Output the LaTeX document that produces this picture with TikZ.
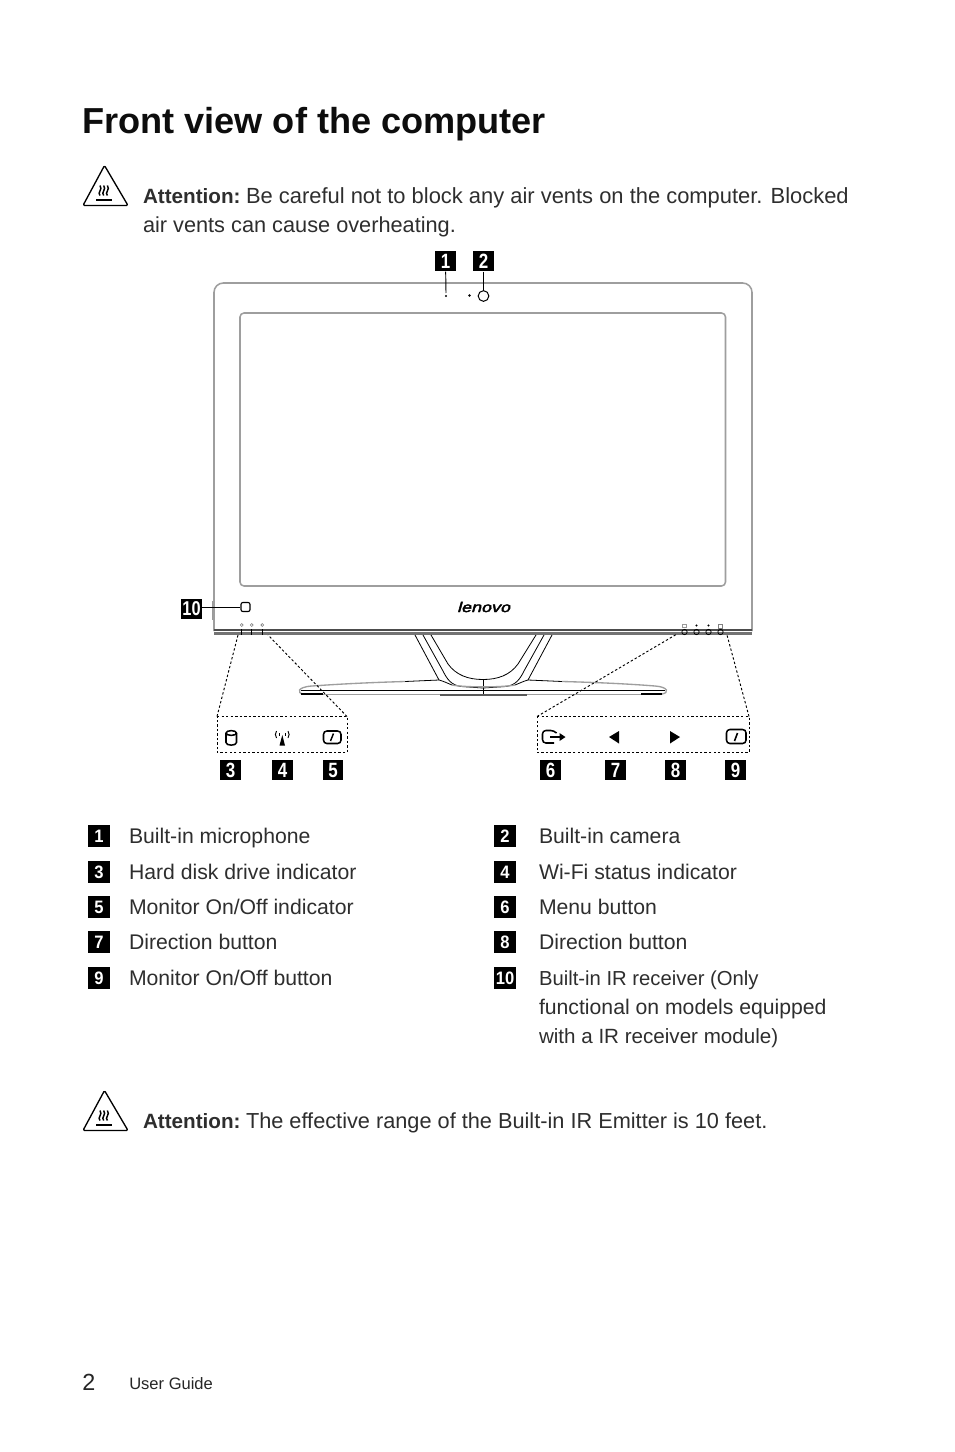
\documentclass[tikz,border=0pt]{standalone}
\usepackage{fontspec}
\setmainfont{Liberation Sans}
\newfontfamily\tagf[FakeStretch=0.82]{Liberation Sans}
\newfontfamily\listf[FakeStretch=0.92]{Liberation Sans}
\newfontfamily\logof[FakeBold=2.5,FakeSlant=0.22]{Liberation Sans}
\newcommand{\fs}[1]{\fontsize{#1}{#1}\selectfont}
\tikzset{x=0.75pt,y=-0.75pt,
  body/.style={anchor=base west,inner sep=0,outer sep=0,font=\fs{15.9},text=black!82},
  wide/.style={anchor=base west,inner sep=0,outer sep=0,font=\fs{16.3},text=black!82},
  bodyb/.style={anchor=base west,inner sep=0,outer sep=0,font=\fs{15.5}\bfseries,text=black!82},
  tagbox/.style={fill=black,text=white,minimum width=15.5pt,minimum height=15.5pt,inner sep=0,font=\tagf\fs{15.5}\bfseries},
  listbox/.style={fill=black,text=white,minimum width=16pt,minimum height=16pt,inner sep=0,font=\listf\fs{13.5}\bfseries},
  thin/.style={line width=0.6pt,black},
  pale/.style={line width=1pt,black!38},
  frameline/.style={line width=1.15pt,black!38},
  zone/.style={line width=0.7pt,black,dash pattern=on 1.8pt off 1.6pt},
  lead/.style={line width=0.7pt,black},
  sym/.style={line width=1.15pt,black,line join=round}
}
\newcommand{\warn}[2]{%
 \begin{scope}[shift={(#1,#2)}]
  \draw[line width=1pt,line join=round,rounded corners=1pt] (21.5,-1.5) -- (45,38.5) -- (0,38.5) -- cycle;
  \draw[line width=1.5pt] (13,32.5) -- (28.5,32.5);
  \foreach \q in {17,20.7,24.4}
   \draw[line width=1.1pt] (\q,28.5) .. controls (\q-3.2,25.5) and (\q+3.2,22.5) .. (\q,18.5);
 \end{scope}}
\begin{document}
\begin{tikzpicture}
\useasboundingbox (0,0) rectangle (954,1452);
\fill[white] (0,0) rectangle (954,1452);
% heading and attention
\node[anchor=base west,inner sep=0,font=\fs{27.1}\bfseries,text=black!95] (title) at (82,134) {Front view of the computer};
\warn{83}{167}
\node[bodyb] (att1) at (143,203) {Attention:};
\node[wide,font=\fs{16.44}] (att1b) at (246,203) {Be careful not to block any air vents on the computer. Blocked};
\node[wide] (att1c) at (143,232) {air vents can cause overheating.};
% monitor
\draw[frameline,rounded corners=7pt] (214,631) -- (214,283) -- (752,283) -- (752,631);
\draw[frameline,rounded corners=3pt] (240,313) rectangle (725.5,586);
\draw[black!70,line width=0.8pt] (214,630) -- (752,630);
\draw[black!55,line width=1.6pt] (214,633.5) -- (752,633.5);
\draw[black!40,line width=0.6pt] (212.5,601) -- (212.5,620);
% stand
\draw[thin] (415,635) -- (439,680);
\draw[thin] (423,635) -- (443,671) .. controls (447,679) and (451,685) .. (461,686.5) -- (483,688);
\draw[thin] (431,635) -- (448,664) .. controls (456,675) and (468,679.5) .. (483,679.5)
            .. controls (498,679.5) and (510,675) .. (518,664) -- (536,635);
\draw[thin] (552,635) -- (528,680);
\draw[thin] (544,635) -- (524,671) .. controls (520,679) and (516,685) .. (506,686.5) -- (483,688);
\draw[thin] (483,679.5) -- (483,695.5);
\draw[thin] (439,680) .. controls (443,681) and (447,683) .. (452,685);
\draw[thin] (528,680) .. controls (524,681) and (520,683) .. (515,685);
\draw[thin] (405,681.5) -- (439,680);
\draw[thin] (528,680) -- (562,681.5);
\draw[pale] (405,681.5) .. controls (370,682.5) and (340,684) .. (312,686) .. controls (297,687) and (297,693) .. (303,694);
\draw[pale] (562,681.5) .. controls (600,682.5) and (630,684) .. (655,686) .. controls (669,687) and (669,693) .. (662,694);
\draw[pale] (452,685) .. controls (465,687.5) and (502,687.5) .. (515,685);
\draw[thin] (301,690) -- (665,690);
\draw[pale] (303,694.5) -- (662,694.5);
\draw[black,line width=1.1pt] (301,694) -- (323,694) (641,694) -- (662,694);
\draw[black!65,line width=0.9pt] (440,695) -- (527,695);
% logo
\node[inner sep=0,font=\logof\fs{10.6},xscale=1.27] (logo) at (483.5,607) {lenovo};
% microphone and camera
\node[tagbox] (t1) at (445.5,261) {1};
\node[tagbox] (t2) at (483.5,261) {2};
\coordinate (mic) at (446,293);
\node[draw,circle,line width=0.75pt,minimum size=8pt,inner sep=0] (cam) at (483.5,296) {};
\fill (446,296) circle (0.9pt);
\fill (469.5,295.5) circle (1.1pt);
\draw[lead] (t1) -- (mic);
\draw[lead] (t2) -- (cam);
% IR
\node[tagbox] (t10) at (191.5,609) {\fs{15}10};
\node[draw,line width=0.85pt,rounded corners=1.5pt,minimum size=6.8pt,inner sep=0] (ir) at (245.5,607) {};
\draw[lead] (t10.east |- ir.west) -- (ir.west);
% leds left
\foreach \q in {241.7,251.7,262.3} {
  \draw[black,line width=1pt] (\q,629) -- (\q,634.5);
  \draw[black!50,line width=0.45pt] (\q,625) circle (1.1pt);
}
% buttons right
\foreach \n/\q in {ba/684.5,bb/696.5,bc/708.5,bd/720.5} {
  \node[draw,circle,line width=0.55pt,minimum size=4pt,inner sep=0] (\n) at (\q,632) {};
}
\draw[black!40,line width=0.4pt] (682,624) rectangle (686,627.5);
\fill (696.5,625.5) circle (.8pt);
\fill (708.5,625.5) circle (.8pt);
\draw[black!50,line width=0.4pt] (718.5,624) rectangle (722.5,628);
% zones
\coordinate (la) at (238,635);
\coordinate (lc) at (268,635);
\coordinate (ra) at (677,634);
\coordinate (rd) at (727,635);
\coordinate (z1a) at (217,716.5);
\coordinate (z1b) at (347,716.5);
\coordinate (z1c) at (347,752.5);
\coordinate (z1d) at (217,752.5);
\draw[zone] (z1a) -- (z1b) -- (z1c) -- (z1d) -- cycle;
\draw[zone] (z1a) -- (la);
\draw[zone] (z1b) -- (lc);
\coordinate (z2a) at (537,716.5);
\coordinate (z2b) at (749,716.5);
\coordinate (z2c) at (749,752.5);
\coordinate (z2d) at (537,752.5);
\draw[zone] (z2a) -- (z2b) -- (z2c) -- (z2d) -- cycle;
\draw[zone] (z2a) -- (ra);
\draw[zone] (z2b) -- (rd);
% symbols, left panel
\draw[sym] (226,733) -- (226,742.5) .. controls (226,746) and (236.5,746) .. (236.5,742.5) -- (236.5,733);
\draw[sym] (231.25,733) ellipse (5.25 and 2.4);
\fill (279.5,745.5) -- (285,745.5) -- (282.3,735) -- cycle;
\draw[line width=0.7pt] (276.5,731) .. controls (275,733) and (275,736) .. (276.5,738);
\draw[line width=0.7pt] (288,731) .. controls (289.5,733) and (289.5,736) .. (288,738);
\draw[line width=0.7pt] (279,733) .. controls (278.3,734) and (278.3,735) .. (279,736);
\draw[line width=0.7pt] (285.5,733) .. controls (286.2,734) and (286.2,735) .. (285.5,736);
\draw[sym,rounded corners=2.5pt] (323.5,731) rectangle (341,743.5);
\draw[line width=1.1pt] (330.5,741) -- (333.5,733.5);
% symbols, right panel
\draw[sym,rounded corners=2.5pt] (554,743) -- (542.5,743) -- (542.5,730.5) -- (554,730.5) -- (556.5,733);
\draw[line width=1.3pt] (550,737) -- (561,737);
\fill (559.5,733) -- (565.5,737) -- (559.5,741) -- cycle;
\fill (609,737) -- (619,731) -- (619,743.5) -- cycle;
\fill (680,737) -- (670,731) -- (670,743.5) -- cycle;
\draw[sym,rounded corners=2.5pt] (726.5,729.5) rectangle (746,743.5);
\draw[line width=1.2pt] (734.5,741) -- (737.5,733);
% panel tags
\foreach \n/\q/\t in {t3/230.5/3,t4/282.5/4,t5/333/5,t6/550.5/6,t7/615.5/7,t8/675.5/8,t9/735.5/9}
  \node[tagbox] (\n) at (\q,770) {\t};
% list
\foreach \n/\q/\t in {li1/836/1,li3/872/3,li5/907/5,li7/942/7,li9/978/9}
  \node[listbox] (\n) at (99,\q) {\t};
\foreach \n/\q/\t in {li2/836/2,li4/872/4,li6/907/6,li8/942/8,li10/978/10}
  \node[listbox] (\n) at (505,\q) {\t};
\node[body] (d1) at (129,843) {Built-in microphone};
\node[body] (d3) at (129,879) {Hard disk drive indicator};
\node[body] (d5) at (129,914) {Monitor On/Off indicator};
\node[body] (d7) at (129,949) {Direction button};
\node[body] (d9) at (129,985) {Monitor On/Off button};
\node[body] (d2) at (539,843) {Built-in camera};
\node[body] (d4) at (539,879) {Wi-Fi status indicator};
\node[body] (d6) at (539,914) {Menu button};
\node[body] (d8) at (539,949) {Direction button};
\node[body,font=\fs{15.2}] (d10) at (539,985) {Built-in IR receiver (Only};
\node[body] (d10b) at (539,1014) {functional on models equipped};
\node[body,font=\fs{15.45}] (d10c) at (539,1043) {with a IR receiver module)};
% second attention
\warn{83}{1092}
\node[bodyb] (att2) at (143,1128) {Attention:};
\node[wide] (att2b) at (246,1128) {The effective range of the Built-in IR Emitter is 10 feet.};
% footer
\node[anchor=base west,inner sep=0,font=\fs{17.5},text=black!85] (pg) at (82,1390) {2};
\node[anchor=base west,inner sep=0,font=\fs{12.4},text=black!85] (ug) at (129,1389) {User Guide};
\end{tikzpicture}
\end{document}
